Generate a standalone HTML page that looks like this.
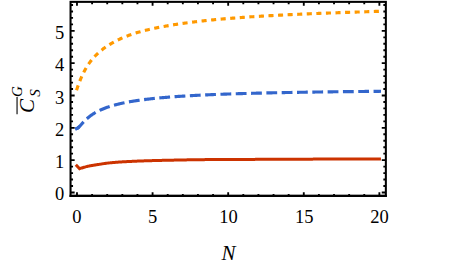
<!DOCTYPE html>
<html><head><meta charset="utf-8"><title>Plot</title><style>
html,body{margin:0;padding:0;background:#fff;}
svg{display:block;}
</style></head><body>
<svg width="458" height="268" viewBox="0 0 458 268">
<rect width="458" height="268" fill="#fff"/>
<g fill="none" stroke-width="3" stroke-linecap="square">
<path d="M76.85,89.21 L77.46,87.46 L78.06,85.75 L78.67,84.09 L79.28,82.48 L79.88,80.93 L80.49,79.44 L81.09,78.00 L81.70,76.61 L82.31,75.28 L82.91,74.00 L83.52,72.77 L84.13,71.58 L84.73,70.44 L85.34,69.34 L85.95,68.28 L86.55,67.26 L87.16,66.28 L87.77,65.33 L88.37,64.41 L88.98,63.53 L89.58,62.67 L90.19,61.85 L90.80,61.05 L91.40,60.28 L92.01,59.53 L92.62,58.81 L93.22,58.10 L93.83,57.42 L94.44,56.76 L95.04,56.12 L95.65,55.49 L96.26,54.88 L96.86,54.29 L97.47,53.71 L98.07,53.14 L98.68,52.59 L99.29,52.06 L99.89,51.53 L100.50,51.02 L101.11,50.52 L101.71,50.03 L102.32,49.55 L102.93,49.08 L103.53,48.62 L104.14,48.17 L104.74,47.73 L105.35,47.30 L105.96,46.87 L106.56,46.46 L107.17,46.05 L107.78,45.65 L108.38,45.26 L108.99,44.88 L109.60,44.50 L110.20,44.13 L110.81,43.77 L111.42,43.41 L112.02,43.06 L112.63,42.72 L113.23,42.38 L113.84,42.05 L114.45,41.72 L115.05,41.40 L115.66,41.09 L116.27,40.78 L116.87,40.48 L117.48,40.18 L118.09,39.88 L118.69,39.59 L119.30,39.31 L119.91,39.03 L120.51,38.75 L121.12,38.48 L121.72,38.22 L122.33,37.95 L122.94,37.70 L123.54,37.44 L124.15,37.19 L124.76,36.94 L125.36,36.70 L125.97,36.46 L126.58,36.23 L127.18,36.00 L127.79,35.77 L128.40,35.54 L129.00,35.32 L129.61,35.10 L130.21,34.89 L130.82,34.67 L131.43,34.46 L132.03,34.26 L132.64,34.06 L133.25,33.86 L133.85,33.66 L134.46,33.46 L135.07,33.27 L135.67,33.08 L136.28,32.89 L136.88,32.71 L137.49,32.53 L138.10,32.35 L138.70,32.17 L139.31,32.00 L139.92,31.83 L140.52,31.66 L141.13,31.49 L141.74,31.32 L142.34,31.16 L142.95,31.00 L143.56,30.84 L144.16,30.68 L144.77,30.53 L145.37,30.38 L145.98,30.22 L146.59,30.07 L147.19,29.93 L147.80,29.78 L148.41,29.64 L149.01,29.49 L149.62,29.35 L150.23,29.21 L150.83,29.07 L151.44,28.94 L152.05,28.80 L152.65,28.67 L153.26,28.54 L153.86,28.41 L154.47,28.28 L155.08,28.15 L155.68,28.02 L156.29,27.90 L156.90,27.77 L157.50,27.65 L158.11,27.53 L158.72,27.41 L159.32,27.29 L159.93,27.17 L160.53,27.05 L161.14,26.94 L161.75,26.82 L162.35,26.71 L162.96,26.60 L163.57,26.49 L164.17,26.38 L164.78,26.27 L165.39,26.16 L165.99,26.05 L166.60,25.94 L167.21,25.84 L167.81,25.73 L168.42,25.63 L169.02,25.53 L169.63,25.43 L170.24,25.32 L170.84,25.22 L171.45,25.12 L172.06,25.03 L172.66,24.93 L173.27,24.83 L173.88,24.73 L174.48,24.64 L175.09,24.54 L175.70,24.45 L176.30,24.36 L176.91,24.26 L177.51,24.17 L178.12,24.08 L178.73,23.99 L179.33,23.90 L179.94,23.81 L180.55,23.72 L181.15,23.64 L181.76,23.55 L182.37,23.46 L182.97,23.38 L183.58,23.29 L184.19,23.21 L184.79,23.12 L185.40,23.04 L186.00,22.96 L186.61,22.88 L187.22,22.80 L187.82,22.71 L188.43,22.63 L189.04,22.56 L189.64,22.48 L190.25,22.40 L190.86,22.32 L191.46,22.24 L192.07,22.17 L192.67,22.09 L193.28,22.02 L193.89,21.94 L194.49,21.87 L195.10,21.79 L195.71,21.72 L196.31,21.65 L196.92,21.58 L197.53,21.50 L198.13,21.43 L198.74,21.36 L199.35,21.29 L199.95,21.22 L200.56,21.15 L201.16,21.09 L201.77,21.02 L202.38,20.95 L202.98,20.88 L203.59,20.82 L204.20,20.75 L204.80,20.69 L205.41,20.62 L206.02,20.56 L206.62,20.49 L207.23,20.43 L207.84,20.37 L208.44,20.30 L209.05,20.24 L209.65,20.18 L210.26,20.12 L210.87,20.06 L211.47,20.00 L212.08,19.94 L212.69,19.88 L213.29,19.82 L213.90,19.76 L214.51,19.70 L215.11,19.64 L215.72,19.59 L216.32,19.53 L216.93,19.47 L217.54,19.42 L218.14,19.36 L218.75,19.31 L219.36,19.25 L219.96,19.20 L220.57,19.14 L221.18,19.09 L221.78,19.03 L222.39,18.98 L223.00,18.93 L223.60,18.88 L224.21,18.82 L224.81,18.77 L225.42,18.72 L226.03,18.67 L226.63,18.62 L227.24,18.57 L227.85,18.52 L228.45,18.47 L229.06,18.42 L229.67,18.37 L230.27,18.32 L230.88,18.27 L231.49,18.23 L232.09,18.18 L232.70,18.13 L233.30,18.08 L233.91,18.04 L234.52,17.99 L235.12,17.94 L235.73,17.90 L236.34,17.85 L236.94,17.81 L237.55,17.76 L238.16,17.72 L238.76,17.67 L239.37,17.63 L239.98,17.58 L240.58,17.54 L241.19,17.50 L241.79,17.45 L242.40,17.41 L243.01,17.37 L243.61,17.32 L244.22,17.28 L244.83,17.24 L245.43,17.20 L246.04,17.16 L246.65,17.11 L247.25,17.07 L247.86,17.03 L248.46,16.99 L249.07,16.95 L249.68,16.91 L250.28,16.87 L250.89,16.83 L251.50,16.79 L252.10,16.75 L252.71,16.71 L253.32,16.68 L253.92,16.64 L254.53,16.60 L255.14,16.56 L255.74,16.52 L256.35,16.48 L256.95,16.45 L257.56,16.41 L258.17,16.37 L258.77,16.34 L259.38,16.30 L259.99,16.26 L260.59,16.23 L261.20,16.19 L261.81,16.15 L262.41,16.12 L263.02,16.08 L263.63,16.05 L264.23,16.01 L264.84,15.98 L265.44,15.94 L266.05,15.91 L266.66,15.87 L267.26,15.84 L267.87,15.80 L268.48,15.77 L269.08,15.74 L269.69,15.70 L270.30,15.67 L270.90,15.63 L271.51,15.60 L272.11,15.57 L272.72,15.54 L273.33,15.50 L273.93,15.47 L274.54,15.44 L275.15,15.41 L275.75,15.37 L276.36,15.34 L276.97,15.31 L277.57,15.28 L278.18,15.25 L278.79,15.22 L279.39,15.18 L280.00,15.15 L280.60,15.12 L281.21,15.09 L281.82,15.06 L282.42,15.03 L283.03,15.00 L283.64,14.97 L284.24,14.94 L284.85,14.91 L285.46,14.88 L286.06,14.85 L286.67,14.82 L287.28,14.79 L287.88,14.76 L288.49,14.73 L289.09,14.70 L289.70,14.67 L290.31,14.65 L290.91,14.62 L291.52,14.59 L292.13,14.56 L292.73,14.53 L293.34,14.50 L293.95,14.48 L294.55,14.45 L295.16,14.42 L295.77,14.39 L296.37,14.37 L296.98,14.34 L297.58,14.31 L298.19,14.28 L298.80,14.26 L299.40,14.23 L300.01,14.20 L300.62,14.18 L301.22,14.15 L301.83,14.12 L302.44,14.10 L303.04,14.07 L303.65,14.04 L304.25,14.02 L304.86,13.99 L305.47,13.97 L306.07,13.94 L306.68,13.91 L307.29,13.89 L307.89,13.86 L308.50,13.84 L309.11,13.81 L309.71,13.79 L310.32,13.76 L310.93,13.74 L311.53,13.71 L312.14,13.69 L312.74,13.66 L313.35,13.64 L313.96,13.61 L314.56,13.59 L315.17,13.56 L315.78,13.54 L316.38,13.52 L316.99,13.49 L317.60,13.47 L318.20,13.44 L318.81,13.42 L319.42,13.40 L320.02,13.37 L320.63,13.35 L321.23,13.32 L321.84,13.30 L322.45,13.28 L323.05,13.25 L323.66,13.23 L324.27,13.21 L324.87,13.18 L325.48,13.16 L326.09,13.14 L326.69,13.12 L327.30,13.09 L327.90,13.07 L328.51,13.05 L329.12,13.02 L329.72,13.00 L330.33,12.98 L330.94,12.96 L331.54,12.93 L332.15,12.91 L332.76,12.89 L333.36,12.87 L333.97,12.85 L334.58,12.82 L335.18,12.80 L335.79,12.78 L336.39,12.76 L337.00,12.74 L337.61,12.71 L338.21,12.69 L338.82,12.67 L339.43,12.65 L340.03,12.63 L340.64,12.60 L341.25,12.58 L341.85,12.56 L342.46,12.54 L343.07,12.52 L343.67,12.50 L344.28,12.48 L344.88,12.46 L345.49,12.43 L346.10,12.41 L346.70,12.39 L347.31,12.37 L347.92,12.35 L348.52,12.33 L349.13,12.31 L349.74,12.29 L350.34,12.27 L350.95,12.25 L351.56,12.23 L352.16,12.20 L352.77,12.18 L353.37,12.16 L353.98,12.14 L354.59,12.12 L355.19,12.10 L355.80,12.08 L356.41,12.06 L357.01,12.04 L357.62,12.02 L358.23,12.00 L358.83,11.98 L359.44,11.96 L360.04,11.94 L360.65,11.92 L361.26,11.90 L361.86,11.88 L362.47,11.86 L363.08,11.84 L363.68,11.82 L364.29,11.80 L364.90,11.78 L365.50,11.76 L366.11,11.74 L366.72,11.72 L367.32,11.70 L367.93,11.68 L368.53,11.66 L369.14,11.64 L369.75,11.62 L370.35,11.60 L370.96,11.58 L371.57,11.57 L372.17,11.55 L372.78,11.53 L373.39,11.51 L373.99,11.49 L374.60,11.47 L375.21,11.45 L375.81,11.43 L376.42,11.41 L377.02,11.39 L377.63,11.37 L378.24,11.35 L378.84,11.33 L379.45,11.32" stroke="#FF9900" stroke-width="3.15" stroke-dasharray="1.93 7.656" stroke-dashoffset="-0.58"/>
<path d="M76.60,128.59 L76.85,128.53 L77.10,128.43 L77.35,128.30 L77.60,128.14 L77.85,127.96 L78.10,127.77 L78.35,127.56" stroke="#3366CC" stroke-width="3.15"/>
<path d="M76.85,128.53 L77.46,128.23 L78.06,127.80 L78.67,127.27 L79.28,126.67 L79.88,126.03 L80.49,125.37 L81.09,124.69 L81.70,124.02 L82.31,123.34 L82.91,122.68 L83.52,122.02 L84.13,121.39 L84.73,120.77 L85.34,120.16 L85.95,119.58 L86.55,119.01 L87.16,118.47 L87.77,117.94 L88.37,117.44 L88.98,116.94 L89.58,116.47 L90.19,116.01 L90.80,115.57 L91.40,115.14 L92.01,114.72 L92.62,114.31 L93.22,113.92 L93.83,113.54 L94.44,113.17 L95.04,112.81 L95.65,112.47 L96.26,112.13 L96.86,111.80 L97.47,111.48 L98.07,111.17 L98.68,110.86 L99.29,110.57 L99.89,110.28 L100.50,110.00 L101.11,109.73 L101.71,109.47 L102.32,109.21 L102.93,108.95 L103.53,108.71 L104.14,108.47 L104.74,108.23 L105.35,108.00 L105.96,107.78 L106.56,107.56 L107.17,107.34 L107.78,107.13 L108.38,106.93 L108.99,106.73 L109.60,106.53 L110.20,106.34 L110.81,106.15 L111.42,105.97 L112.02,105.79 L112.63,105.61 L113.23,105.43 L113.84,105.26 L114.45,105.10 L115.05,104.93 L115.66,104.77 L116.27,104.61 L116.87,104.46 L117.48,104.31 L118.09,104.16 L118.69,104.01 L119.30,103.87 L119.91,103.73 L120.51,103.59 L121.12,103.45 L121.72,103.32 L122.33,103.18 L122.94,103.06 L123.54,102.93 L124.15,102.80 L124.76,102.68 L125.36,102.56 L125.97,102.44 L126.58,102.32 L127.18,102.21 L127.79,102.09 L128.40,101.98 L129.00,101.87 L129.61,101.76 L130.21,101.66 L130.82,101.55 L131.43,101.45 L132.03,101.35 L132.64,101.25 L133.25,101.15 L133.85,101.05 L134.46,100.95 L135.07,100.86 L135.67,100.77 L136.28,100.67 L136.88,100.58 L137.49,100.49 L138.10,100.41 L138.70,100.32 L139.31,100.23 L139.92,100.15 L140.52,100.07 L141.13,99.98 L141.74,99.90 L142.34,99.82 L142.95,99.74 L143.56,99.67 L144.16,99.59 L144.77,99.51 L145.37,99.44 L145.98,99.36 L146.59,99.29 L147.19,99.22 L147.80,99.15 L148.41,99.08 L149.01,99.01 L149.62,98.94 L150.23,98.87 L150.83,98.80 L151.44,98.74 L152.05,98.67 L152.65,98.61 L153.26,98.54 L153.86,98.48 L154.47,98.42 L155.08,98.36 L155.68,98.29 L156.29,98.23 L156.90,98.18 L157.50,98.12 L158.11,98.06 L158.72,98.00 L159.32,97.94 L159.93,97.89 L160.53,97.83 L161.14,97.78 L161.75,97.72 L162.35,97.67 L162.96,97.61 L163.57,97.56 L164.17,97.51 L164.78,97.46 L165.39,97.41 L165.99,97.36 L166.60,97.31 L167.21,97.26 L167.81,97.21 L168.42,97.16 L169.02,97.11 L169.63,97.06 L170.24,97.02 L170.84,96.97 L171.45,96.92 L172.06,96.88 L172.66,96.83 L173.27,96.79 L173.88,96.74 L174.48,96.70 L175.09,96.66 L175.70,96.61 L176.30,96.57 L176.91,96.53 L177.51,96.49 L178.12,96.44 L178.73,96.40 L179.33,96.36 L179.94,96.32 L180.55,96.28 L181.15,96.24 L181.76,96.20 L182.37,96.17 L182.97,96.13 L183.58,96.09 L184.19,96.05 L184.79,96.01 L185.40,95.98 L186.00,95.94 L186.61,95.90 L187.22,95.87 L187.82,95.83 L188.43,95.80 L189.04,95.76 L189.64,95.73 L190.25,95.69 L190.86,95.66 L191.46,95.62 L192.07,95.59 L192.67,95.56 L193.28,95.52 L193.89,95.49 L194.49,95.46 L195.10,95.43 L195.71,95.40 L196.31,95.36 L196.92,95.33 L197.53,95.30 L198.13,95.27 L198.74,95.24 L199.35,95.21 L199.95,95.18 L200.56,95.15 L201.16,95.12 L201.77,95.09 L202.38,95.06 L202.98,95.03 L203.59,95.00 L204.20,94.98 L204.80,94.95 L205.41,94.92 L206.02,94.89 L206.62,94.87 L207.23,94.84 L207.84,94.81 L208.44,94.78 L209.05,94.76 L209.65,94.73 L210.26,94.71 L210.87,94.68 L211.47,94.65 L212.08,94.63 L212.69,94.60 L213.29,94.58 L213.90,94.55 L214.51,94.53 L215.11,94.50 L215.72,94.48 L216.32,94.45 L216.93,94.43 L217.54,94.41 L218.14,94.38 L218.75,94.36 L219.36,94.34 L219.96,94.31 L220.57,94.29 L221.18,94.27 L221.78,94.24 L222.39,94.22 L223.00,94.20 L223.60,94.18 L224.21,94.16 L224.81,94.13 L225.42,94.11 L226.03,94.09 L226.63,94.07 L227.24,94.05 L227.85,94.03 L228.45,94.01 L229.06,93.99 L229.67,93.96 L230.27,93.94 L230.88,93.92 L231.49,93.90 L232.09,93.88 L232.70,93.86 L233.30,93.84 L233.91,93.82 L234.52,93.81 L235.12,93.79 L235.73,93.77 L236.34,93.75 L236.94,93.73 L237.55,93.71 L238.16,93.69 L238.76,93.67 L239.37,93.65 L239.98,93.64 L240.58,93.62 L241.19,93.60 L241.79,93.58 L242.40,93.56 L243.01,93.55 L243.61,93.53 L244.22,93.51 L244.83,93.49 L245.43,93.48 L246.04,93.46 L246.65,93.44 L247.25,93.43 L247.86,93.41 L248.46,93.39 L249.07,93.38 L249.68,93.36 L250.28,93.34 L250.89,93.33 L251.50,93.31 L252.10,93.29 L252.71,93.28 L253.32,93.26 L253.92,93.25 L254.53,93.23 L255.14,93.22 L255.74,93.20 L256.35,93.19 L256.95,93.17 L257.56,93.15 L258.17,93.14 L258.77,93.12 L259.38,93.11 L259.99,93.09 L260.59,93.08 L261.20,93.07 L261.81,93.05 L262.41,93.04 L263.02,93.02 L263.63,93.01 L264.23,92.99 L264.84,92.98 L265.44,92.97 L266.05,92.95 L266.66,92.94 L267.26,92.92 L267.87,92.91 L268.48,92.90 L269.08,92.88 L269.69,92.87 L270.30,92.86 L270.90,92.84 L271.51,92.83 L272.11,92.82 L272.72,92.80 L273.33,92.79 L273.93,92.78 L274.54,92.77 L275.15,92.75 L275.75,92.74 L276.36,92.73 L276.97,92.72 L277.57,92.70 L278.18,92.69 L278.79,92.68 L279.39,92.67 L280.00,92.65 L280.60,92.64 L281.21,92.63 L281.82,92.62 L282.42,92.61 L283.03,92.59 L283.64,92.58 L284.24,92.57 L284.85,92.56 L285.46,92.55 L286.06,92.54 L286.67,92.52 L287.28,92.51 L287.88,92.50 L288.49,92.49 L289.09,92.48 L289.70,92.47 L290.31,92.46 L290.91,92.45 L291.52,92.43 L292.13,92.42 L292.73,92.41 L293.34,92.40 L293.95,92.39 L294.55,92.38 L295.16,92.37 L295.77,92.36 L296.37,92.35 L296.98,92.34 L297.58,92.33 L298.19,92.32 L298.80,92.31 L299.40,92.30 L300.01,92.29 L300.62,92.28 L301.22,92.27 L301.83,92.26 L302.44,92.25 L303.04,92.24 L303.65,92.23 L304.25,92.22 L304.86,92.21 L305.47,92.20 L306.07,92.19 L306.68,92.18 L307.29,92.17 L307.89,92.16 L308.50,92.15 L309.11,92.14 L309.71,92.13 L310.32,92.12 L310.93,92.11 L311.53,92.10 L312.14,92.09 L312.74,92.09 L313.35,92.08 L313.96,92.07 L314.56,92.06 L315.17,92.05 L315.78,92.04 L316.38,92.03 L316.99,92.02 L317.60,92.01 L318.20,92.01 L318.81,92.00 L319.42,91.99 L320.02,91.98 L320.63,91.97 L321.23,91.96 L321.84,91.95 L322.45,91.95 L323.05,91.94 L323.66,91.93 L324.27,91.92 L324.87,91.91 L325.48,91.90 L326.09,91.90 L326.69,91.89 L327.30,91.88 L327.90,91.87 L328.51,91.86 L329.12,91.86 L329.72,91.85 L330.33,91.84 L330.94,91.83 L331.54,91.82 L332.15,91.82 L332.76,91.81 L333.36,91.80 L333.97,91.79 L334.58,91.79 L335.18,91.78 L335.79,91.77 L336.39,91.76 L337.00,91.76 L337.61,91.75 L338.21,91.74 L338.82,91.73 L339.43,91.73 L340.03,91.72 L340.64,91.71 L341.25,91.70 L341.85,91.70 L342.46,91.69 L343.07,91.68 L343.67,91.67 L344.28,91.67 L344.88,91.66 L345.49,91.65 L346.10,91.65 L346.70,91.64 L347.31,91.63 L347.92,91.63 L348.52,91.62 L349.13,91.61 L349.74,91.61 L350.34,91.60 L350.95,91.59 L351.56,91.58 L352.16,91.58 L352.77,91.57 L353.37,91.56 L353.98,91.56 L354.59,91.55 L355.19,91.54 L355.80,91.54 L356.41,91.53 L357.01,91.53 L357.62,91.52 L358.23,91.51 L358.83,91.51 L359.44,91.50 L360.04,91.49 L360.65,91.49 L361.26,91.48 L361.86,91.47 L362.47,91.47 L363.08,91.46 L363.68,91.46 L364.29,91.45 L364.90,91.44 L365.50,91.44 L366.11,91.43 L366.72,91.43 L367.32,91.42 L367.93,91.41 L368.53,91.41 L369.14,91.40 L369.75,91.40 L370.35,91.39 L370.96,91.38 L371.57,91.38 L372.17,91.37 L372.78,91.37 L373.39,91.36 L373.99,91.35 L374.60,91.35 L375.21,91.34 L375.81,91.34 L376.42,91.33 L377.02,91.33 L377.63,91.32 L378.24,91.32 L378.84,91.31 L379.45,91.30" stroke="#3366CC" stroke-width="3.15" stroke-dasharray="7.657 7.657" stroke-dashoffset="-0.3"/>
<path d="M76.85,165.85 L79.60,168.70 L80.35,168.45 L81.10,168.20 L81.85,167.96 L82.61,167.72 L83.36,167.50 L84.11,167.28 L84.86,167.07 L85.61,166.86 L86.36,166.67 L87.12,166.48 L87.87,166.30 L88.62,166.13 L89.37,165.97 L90.12,165.82 L90.87,165.67 L91.62,165.54 L92.38,165.41 L93.13,165.29 L93.88,165.18 L94.63,165.06 L95.38,164.95 L96.13,164.83 L96.88,164.72 L97.64,164.60 L98.39,164.48 L99.14,164.36 L99.89,164.23 L100.64,164.11 L101.39,163.99 L102.15,163.87 L102.90,163.75 L103.65,163.63 L104.40,163.52 L105.15,163.41 L105.90,163.31 L106.65,163.21 L107.41,163.12 L108.16,163.03 L108.91,162.95 L109.66,162.88 L110.41,162.80 L111.16,162.73 L111.91,162.66 L112.67,162.59 L113.42,162.53 L114.17,162.46 L114.92,162.40 L115.67,162.34 L116.42,162.29 L117.18,162.23 L117.93,162.18 L118.68,162.12 L119.43,162.07 L120.18,162.02 L120.93,161.97 L121.68,161.92 L122.44,161.87 L123.19,161.83 L123.94,161.78 L124.69,161.74 L125.44,161.69 L126.19,161.65 L126.94,161.61 L127.70,161.57 L128.45,161.53 L129.20,161.49 L129.95,161.45 L130.70,161.42 L131.45,161.38 L132.21,161.34 L132.96,161.31 L133.71,161.27 L134.46,161.24 L135.21,161.20 L135.96,161.17 L136.71,161.14 L137.47,161.11 L138.22,161.08 L138.97,161.05 L139.72,161.02 L140.47,160.99 L141.22,160.96 L141.97,160.94 L142.73,160.91 L143.48,160.89 L144.23,160.86 L144.98,160.84 L145.73,160.81 L146.48,160.79 L147.24,160.76 L147.99,160.74 L148.74,160.72 L149.49,160.69 L150.24,160.67 L150.99,160.65 L151.74,160.63 L152.50,160.61 L153.25,160.59 L154.00,160.57 L154.75,160.55 L155.50,160.53 L156.25,160.51 L157.00,160.49 L157.76,160.47 L158.51,160.45 L159.26,160.44 L160.01,160.42 L160.76,160.40 L161.51,160.39 L162.27,160.37 L163.02,160.35 L163.77,160.34 L164.52,160.32 L165.27,160.30 L166.02,160.29 L166.77,160.27 L167.53,160.25 L168.28,160.24 L169.03,160.22 L169.78,160.21 L170.53,160.19 L171.28,160.17 L172.03,160.16 L172.79,160.14 L173.54,160.13 L174.29,160.11 L175.04,160.09 L175.79,160.08 L176.54,160.06 L177.30,160.05 L178.05,160.03 L178.80,160.02 L179.55,160.00 L180.30,159.99 L181.05,159.98 L181.80,159.96 L182.56,159.95 L183.31,159.93 L184.06,159.92 L184.81,159.91 L185.56,159.89 L186.31,159.88 L187.07,159.87 L187.82,159.85 L188.57,159.84 L189.32,159.83 L190.07,159.82 L190.82,159.80 L191.57,159.79 L192.33,159.78 L193.08,159.77 L193.83,159.76 L194.58,159.75 L195.33,159.74 L196.08,159.73 L196.83,159.72 L197.59,159.71 L198.34,159.70 L199.09,159.69 L199.84,159.68 L200.59,159.67 L201.34,159.66 L202.10,159.65 L202.85,159.65 L203.60,159.64 L204.35,159.63 L205.10,159.62 L205.85,159.62 L206.60,159.61 L207.36,159.60 L208.11,159.60 L208.86,159.59 L209.61,159.59 L210.36,159.58 L211.11,159.58 L211.86,159.57 L212.62,159.57 L213.37,159.56 L214.12,159.56 L214.87,159.55 L215.62,159.55 L216.37,159.55 L217.13,159.54 L217.88,159.54 L218.63,159.53 L219.38,159.53 L220.13,159.53 L220.88,159.52 L221.63,159.52 L222.39,159.51 L223.14,159.51 L223.89,159.51 L224.64,159.50 L225.39,159.50 L226.14,159.50 L226.89,159.49 L227.65,159.49 L228.40,159.49 L229.15,159.48 L229.90,159.48 L230.65,159.48 L231.40,159.48 L232.16,159.47 L232.91,159.47 L233.66,159.47 L234.41,159.46 L235.16,159.46 L235.91,159.46 L236.66,159.46 L237.42,159.45 L238.17,159.45 L238.92,159.45 L239.67,159.44 L240.42,159.44 L241.17,159.44 L241.92,159.43 L242.68,159.43 L243.43,159.43 L244.18,159.43 L244.93,159.42 L245.68,159.42 L246.43,159.42 L247.19,159.41 L247.94,159.41 L248.69,159.41 L249.44,159.40 L250.19,159.40 L250.94,159.40 L251.69,159.39 L252.45,159.39 L253.20,159.39 L253.95,159.38 L254.70,159.38 L255.45,159.37 L256.20,159.37 L256.95,159.37 L257.71,159.36 L258.46,159.36 L259.21,159.36 L259.96,159.35 L260.71,159.35 L261.46,159.35 L262.22,159.34 L262.97,159.34 L263.72,159.34 L264.47,159.33 L265.22,159.33 L265.97,159.33 L266.72,159.32 L267.48,159.32 L268.23,159.31 L268.98,159.31 L269.73,159.31 L270.48,159.30 L271.23,159.30 L271.98,159.30 L272.74,159.29 L273.49,159.29 L274.24,159.29 L274.99,159.28 L275.74,159.28 L276.49,159.28 L277.25,159.27 L278.00,159.27 L278.75,159.27 L279.50,159.26 L280.25,159.26 L281.00,159.26 L281.75,159.25 L282.51,159.25 L283.26,159.25 L284.01,159.24 L284.76,159.24 L285.51,159.24 L286.26,159.23 L287.02,159.23 L287.77,159.23 L288.52,159.22 L289.27,159.22 L290.02,159.22 L290.77,159.21 L291.52,159.21 L292.28,159.21 L293.03,159.20 L293.78,159.20 L294.53,159.20 L295.28,159.19 L296.03,159.19 L296.78,159.19 L297.54,159.18 L298.29,159.18 L299.04,159.18 L299.79,159.17 L300.54,159.17 L301.29,159.17 L302.05,159.17 L302.80,159.16 L303.55,159.16 L304.30,159.16 L305.05,159.15 L305.80,159.15 L306.55,159.15 L307.31,159.14 L308.06,159.14 L308.81,159.14 L309.56,159.14 L310.31,159.13 L311.06,159.13 L311.81,159.13 L312.57,159.13 L313.32,159.12 L314.07,159.12 L314.82,159.12 L315.57,159.11 L316.32,159.11 L317.08,159.11 L317.83,159.11 L318.58,159.10 L319.33,159.10 L320.08,159.10 L320.83,159.09 L321.58,159.09 L322.34,159.09 L323.09,159.09 L323.84,159.08 L324.59,159.08 L325.34,159.08 L326.09,159.08 L326.84,159.07 L327.60,159.07 L328.35,159.07 L329.10,159.07 L329.85,159.06 L330.60,159.06 L331.35,159.06 L332.11,159.06 L332.86,159.05 L333.61,159.05 L334.36,159.05 L335.11,159.05 L335.86,159.04 L336.61,159.04 L337.37,159.04 L338.12,159.04 L338.87,159.03 L339.62,159.03 L340.37,159.03 L341.12,159.03 L341.87,159.02 L342.63,159.02 L343.38,159.02 L344.13,159.02 L344.88,159.01 L345.63,159.01 L346.38,159.01 L347.14,159.01 L347.89,159.01 L348.64,159.00 L349.39,159.00 L350.14,159.00 L350.89,159.00 L351.64,159.00 L352.40,158.99 L353.15,158.99 L353.90,158.99 L354.65,158.99 L355.40,158.99 L356.15,158.98 L356.90,158.98 L357.66,158.98 L358.41,158.98 L359.16,158.98 L359.91,158.97 L360.66,158.97 L361.41,158.97 L362.17,158.97 L362.92,158.97 L363.67,158.96 L364.42,158.96 L365.17,158.96 L365.92,158.96 L366.67,158.96 L367.43,158.96 L368.18,158.95 L368.93,158.95 L369.68,158.95 L370.43,158.95 L371.18,158.95 L371.93,158.95 L372.69,158.94 L373.44,158.94 L374.19,158.94 L374.94,158.94 L375.69,158.94 L376.44,158.94 L377.20,158.93 L377.95,158.93 L378.70,158.93 L379.45,158.93" stroke="#CC3300" stroke-linejoin="miter"/>
</g>
<path d="M76.98,195.9v-3.75M76.98,1.86v4.0M92.10,195.9v-1.85M92.10,1.86v2.35M107.22,195.9v-1.85M107.22,1.86v2.35M122.34,195.9v-1.85M122.34,1.86v2.35M137.46,195.9v-1.85M137.46,1.86v2.35M152.58,195.9v-3.75M152.58,1.86v4.0M167.70,195.9v-1.85M167.70,1.86v2.35M182.82,195.9v-1.85M182.82,1.86v2.35M197.94,195.9v-1.85M197.94,1.86v2.35M213.06,195.9v-1.85M213.06,1.86v2.35M228.18,195.9v-3.75M228.18,1.86v4.0M243.30,195.9v-1.85M243.30,1.86v2.35M258.42,195.9v-1.85M258.42,1.86v2.35M273.54,195.9v-1.85M273.54,1.86v2.35M288.66,195.9v-1.85M288.66,1.86v2.35M303.78,195.9v-3.75M303.78,1.86v4.0M318.90,195.9v-1.85M318.90,1.86v2.35M334.02,195.9v-1.85M334.02,1.86v2.35M349.14,195.9v-1.85M349.14,1.86v2.35M364.26,195.9v-1.85M364.26,1.86v2.35M379.38,195.9v-3.75M379.38,1.86v4.0M70.55,192.47h4.1M385.85,192.47h-4.1M70.55,186.01h2.5M385.85,186.01h-2.5M70.55,179.54h2.5M385.85,179.54h-2.5M70.55,173.08h2.5M385.85,173.08h-2.5M70.55,166.61h2.5M385.85,166.61h-2.5M70.55,160.15h4.1M385.85,160.15h-4.1M70.55,153.68h2.5M385.85,153.68h-2.5M70.55,147.22h2.5M385.85,147.22h-2.5M70.55,140.75h2.5M385.85,140.75h-2.5M70.55,134.29h2.5M385.85,134.29h-2.5M70.55,127.83h4.1M385.85,127.83h-4.1M70.55,121.36h2.5M385.85,121.36h-2.5M70.55,114.90h2.5M385.85,114.90h-2.5M70.55,108.43h2.5M385.85,108.43h-2.5M70.55,101.97h2.5M385.85,101.97h-2.5M70.55,95.50h4.1M385.85,95.50h-4.1M70.55,89.04h2.5M385.85,89.04h-2.5M70.55,82.58h2.5M385.85,82.58h-2.5M70.55,76.11h2.5M385.85,76.11h-2.5M70.55,69.65h2.5M385.85,69.65h-2.5M70.55,63.18h4.1M385.85,63.18h-4.1M70.55,56.72h2.5M385.85,56.72h-2.5M70.55,50.25h2.5M385.85,50.25h-2.5M70.55,43.79h2.5M385.85,43.79h-2.5M70.55,37.32h2.5M385.85,37.32h-2.5M70.55,30.86h4.1M385.85,30.86h-4.1M70.55,24.40h2.5M385.85,24.40h-2.5M70.55,17.93h2.5M385.85,17.93h-2.5M70.55,11.47h2.5M385.85,11.47h-2.5M70.55,5.00h2.5M385.85,5.00h-2.5" stroke="#000" stroke-width="1.85" fill="none"/>
<rect x="70.55" y="1.86" width="315.30" height="194.04" fill="none" stroke="#000" stroke-width="2.05"/>
<path d="M69.525,195.9H386.875" stroke="#000" stroke-width="2.4" fill="none"/>
<g fill="#000" font-family="'Liberation Serif', serif" font-size="18.5">
<text x="76.95" y="223.4" text-anchor="middle">0</text>
<text x="152.6" y="223.4" text-anchor="middle">5</text>
<text x="228.6" y="223.4" text-anchor="middle">10</text>
<text x="304.2" y="223.4" text-anchor="middle">15</text>
<text x="379.5" y="223.4" text-anchor="middle">20</text>
<text x="64.2" y="200.4" text-anchor="end">0</text>
<text x="64.2" y="168.1" text-anchor="end">1</text>
<text x="64.2" y="135.8" text-anchor="end">2</text>
<text x="64.2" y="103.5" text-anchor="end">3</text>
<text x="64.2" y="71.2" text-anchor="end">4</text>
<text x="64.2" y="38.9" text-anchor="end">5</text>
<text x="228.5" y="260.4" text-anchor="middle" font-size="21" font-style="italic">N</text>
<text transform="translate(34.4,113) rotate(-90)" x="0" y="0" font-size="21" font-style="italic">C</text>
<text transform="translate(39.6,96.7) rotate(-90)" x="0" y="0" font-size="15" font-style="italic">S</text>
<text transform="translate(22.1,97) rotate(-90)" x="0" y="0" font-size="15" font-style="italic">G</text>
</g>
<path d="M17.05,97.0V114.2" stroke="#000" stroke-width="1.1" fill="none"/>
</svg>
</body></html>
